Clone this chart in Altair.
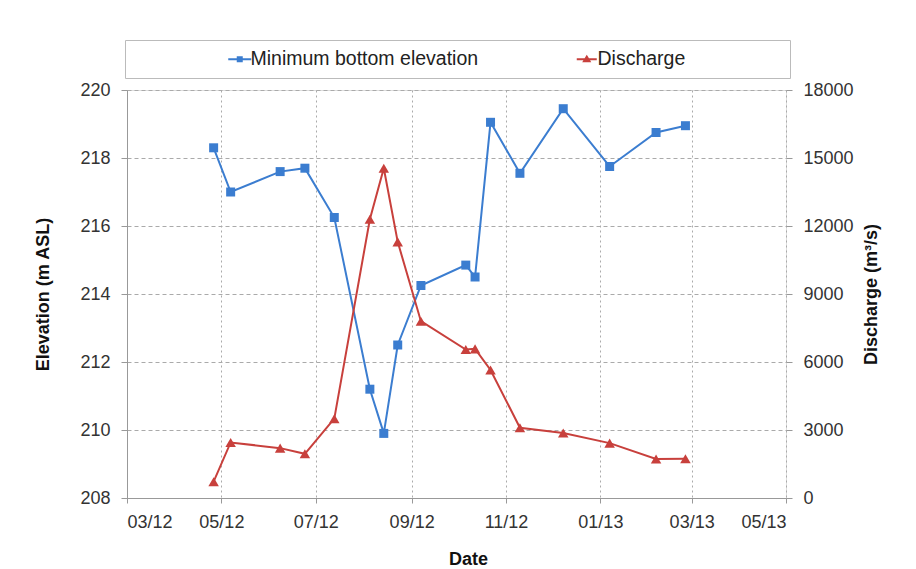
import altair as alt
import pandas as pd

# ---- data ----
dates = ["2012-04-26", "2012-05-07", "2012-06-08", "2012-06-24", "2012-07-13",
         "2012-08-05", "2012-08-14", "2012-08-23", "2012-09-07", "2012-10-06",
         "2012-10-12", "2012-10-22", "2012-11-10", "2012-12-08", "2013-01-07",
         "2013-02-06", "2013-02-25"]
elevation = [218.3, 217.0, 217.6, 217.7, 216.25, 211.2, 209.9, 212.5, 214.25,
             214.85, 214.5, 219.05, 217.55, 219.45, 217.75, 218.75, 218.95]
discharge = [720, 2450, 2200, 1950, 3500, 12300, 14550, 11300, 7800, 6550,
             6580, 5650, 3100, 2870, 2420, 1720, 1730]
series_names = ["Minimum bottom elevation", "Discharge"]
x_ticks = ["2012-03-01", "2012-05-01", "2012-07-01", "2012-09-01",
           "2012-11-01", "2013-01-01", "2013-03-01", "2013-05-01"]
elev_ticks = [208, 210, 212, 214, 216, 218, 220]
dis_ticks = [0, 3000, 6000, 9000, 12000, 15000, 18000]

BLUE = "#3B7DD0"
RED = "#C8403C"
FONT = "Liberation Sans"


def to_dt(s):
    return alt.DateTime(year=int(s[:4]), month=int(s[5:7]), date=int(s[8:10]), utc=True)


tick_dts = [to_dt(s) for s in x_ticks]

df = pd.DataFrame({"date": dates, "elev": elevation, "dis": discharge})
df_e = df.assign(series=series_names[0])
df_d = df.assign(series=series_names[1])
df_both = pd.concat([df_e, df_d], ignore_index=True)

x_enc = alt.X(
    "date:T",
    scale=alt.Scale(type="utc", domain=[tick_dts[0], tick_dts[-1]]),
    axis=alt.Axis(values=tick_dts, labelExpr="utcFormat(datum.value, '%m/%y')", title="Date",
                  grid=True, gridDash=[2, 3], gridColor="#aaaaaa",
                  domainColor="#999999", tickColor="#999999", tickSize=5,
                  labelPadding=10, labelFontSize=18, labelColor="#333333",
                  labelFont=FONT, titleFont=FONT, titleFontSize=18, titleColor="#111111",
                  titleX=341, titleY=52, titleBaseline="top"),
)

sq_path = "M-2.3,0H2.3M-0.4,-0.4H0.4V0.4H-0.4ZM-0.4,-0.2H0.4M-0.4,0.2H0.4"
tri_path = "M-2.0,0H2.0M0,-0.5L0.55,0.4H-0.55ZM-0.25,-0.05H0.25M-0.4,0.2H0.4"

# zero-width title on the right only stretches the legend frame to the reference box width
legend = alt.Legend(
    title="\u200b", titleOrient="right", titlePadding=96, titleFontSize=10,
    titleColor="transparent",
    orient="none", legendX=-2, legendY=-50, direction="horizontal",
    strokeColor="#bbbbbb", fillColor="white", padding=9,
    labelFont=FONT, labelFontSize=19.5, labelColor="#222222", labelLimit=0,
    symbolSize=100, symbolOffset=96, labelOffset=1, columnPadding=2,
    symbolStrokeWidth=2, symbolOpacity=1,
)

y_e = alt.Y("elev:Q", scale=alt.Scale(domain=[208, 220], nice=False, zero=False),
            axis=alt.Axis(values=elev_ticks, title="Elevation (m ASL)", grid=True,
                          gridDash=[4, 3], gridColor="#aaaaaa", domainColor="#999999",
                          tickColor="#999999", tickSize=6, labelPadding=11,
                          labelFontSize=18, labelColor="#333333", labelFont=FONT,
                          titleFont=FONT, titleFontSize=18, titleColor="#111111",
                          titlePadding=27))
y_d = alt.Y("dis:Q", scale=alt.Scale(domain=[0, 18000], nice=False),
            axis=alt.Axis(orient="right", values=dis_ticks, format="d",
                          title="Discharge (m³/s)", grid=False, domain=False,
                          tickColor="#999999", tickSize=6, labelPadding=11,
                          labelFontSize=18, labelColor="#333333", labelFont=FONT,
                          titleFont=FONT, titleFontSize=18, titleColor="#111111",
                          titlePadding=27, titleAngle=270))

line_e = alt.Chart(df_e).mark_line(color=BLUE, strokeWidth=2).encode(x=x_enc, y=y_e)
pts_e = alt.Chart(df_e).mark_point(filled=True, color=BLUE, shape="square", size=81, opacity=1).encode(
    x=x_enc, y=y_e)
# invisible layer that only supplies the legend
legend_layer = alt.Chart(df_both).mark_point(filled=False, opacity=0, strokeWidth=2).encode(
    x=x_enc, y=y_e,
    color=alt.Color("series:N", scale=alt.Scale(domain=series_names, range=[BLUE, RED]), legend=legend),
    shape=alt.Shape("series:N", scale=alt.Scale(domain=series_names, range=[sq_path, tri_path]), legend=legend),
)
line_d = alt.Chart(df_d).mark_line(color=RED, strokeWidth=2).encode(x=x_enc, y=y_d)
pts_d = alt.Chart(df_d).mark_point(filled=True, color=RED, shape="triangle-up", size=110, opacity=1).encode(
    x=x_enc, y=y_d)

left = alt.layer(line_e, pts_e, legend_layer)
right = alt.layer(line_d, pts_d)

chart = alt.layer(left, right).resolve_scale(y="independent").properties(
    width=659, height=408,
    autosize=alt.AutoSizeParams(type="none"),
    padding={"left": 119, "top": 82, "right": 114, "bottom": 69},
).configure_view(stroke=None).configure(background="white")

chart.save("out.html", embed_options={"renderer": "svg", "actions": False})
